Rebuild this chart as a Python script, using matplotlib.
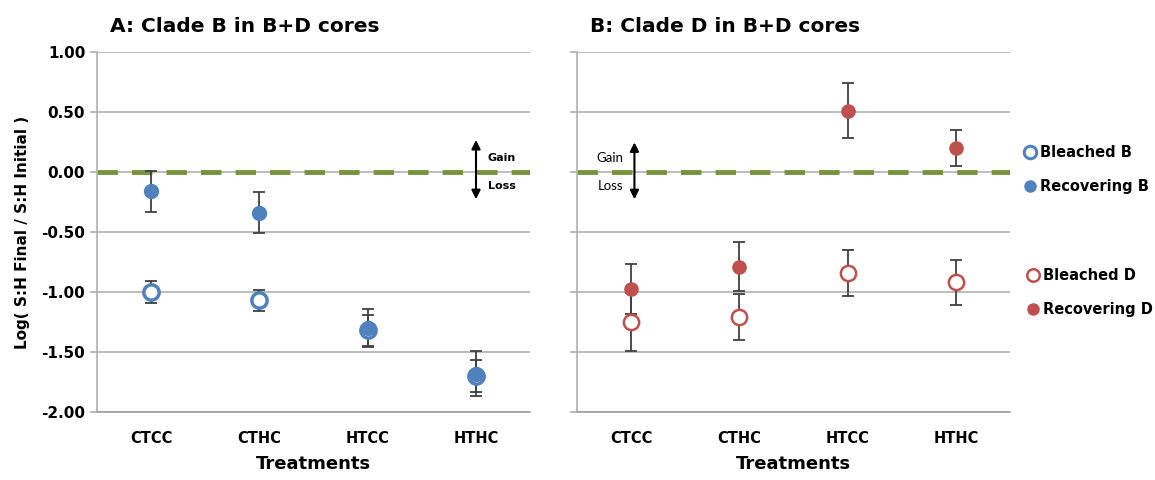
import matplotlib.pyplot as plt
from matplotlib.lines import Line2D

treatments = ["CTCC", "CTHC", "HTCC", "HTHC"]

# panel A: clade B
bleached_b = [-1.00, -1.07, -1.32, -1.70]
bleached_b_err = [0.09, 0.09, 0.13, 0.13]
recovering_b = [-0.16, -0.34, -1.30, -1.68]
recovering_b_err = [0.17, 0.17, 0.16, 0.19]

# panel B: clade D
bleached_d = [-1.25, -1.21, -0.84, -0.92]
bleached_d_err = [0.24, 0.19, 0.19, 0.19]
recovering_d = [-0.975, -0.79, 0.51, 0.20]
recovering_d_err = [0.21, 0.205, 0.23, 0.15]

yticks = [1.0, 0.5, 0.0, -0.5, -1.0, -1.5, -2.0]

blue = "#4F81BD"
red = "#C0504D"
green = "#77933C"
ecol = "#404040"

fig = plt.figure(figsize=(11.55, 4.8), dpi=100)
ax1 = fig.add_axes([0.084, 0.1417, 0.375, 0.75])
ax2 = fig.add_axes([0.4996, 0.1417, 0.375, 0.75])

x = list(range(len(treatments)))

def style(ax, show_labels):
    ax.set_xlim(-0.5, 3.5)
    ax.set_ylim(-2.0, 1.0)
    ax.set_yticks(yticks)
    ax.yaxis.grid(True, color="#B0B0B0", lw=1.2)
    ax.set_axisbelow(True)
    for s in ["top", "right"]:
        ax.spines[s].set_visible(False)
    ax.spines["left"].set_color("#B0B0B0")
    ax.spines["bottom"].set_color("#A0A0A0")
    ax.spines["left"].set_linewidth(1.2)
    ax.spines["bottom"].set_linewidth(1.2)
    ax.tick_params(axis="y", color="#B0B0B0", length=5, width=1.2)
    ax.tick_params(axis="x", length=0, pad=14)
    ax.set_xticks(x)
    ax.set_xticklabels(treatments, fontsize=10.5, fontweight="bold")
    if show_labels:
        ax.set_yticklabels(["%.2f" % t for t in yticks], fontsize=11, fontweight="bold")
    else:
        ax.set_yticklabels([])
    ax.set_xlabel("Treatments", fontsize=13, fontweight="bold", labelpad=6)
    ax.axhline(0, color=green, lw=3.5, dashes=(4.2, 2.9), zorder=2)

style(ax1, True)
style(ax2, False)
ax1.set_ylabel("Log( S:H Final / S:H Initial )", fontsize=11, fontweight="bold", labelpad=8)

ekw = dict(fmt="none", ecolor=ecol, elinewidth=1.3, capsize=4.5, capthick=1.3, zorder=3)

ax1.errorbar(x, bleached_b, yerr=bleached_b_err, **ekw)
ax1.errorbar(x, recovering_b, yerr=recovering_b_err, **ekw)
ax1.plot(x, bleached_b, "o", ms=11, mfc="white", mec=blue, mew=2.5, ls="none", zorder=4)
ax1.plot(x, recovering_b, "o", ms=10, color=blue, ls="none", zorder=5)

ax2.errorbar(x, bleached_d, yerr=bleached_d_err, **ekw)
ax2.errorbar(x, recovering_d, yerr=recovering_d_err, **ekw)
ax2.plot(x, bleached_d, "o", ms=11, mfc="white", mec=red, mew=1.8, ls="none", zorder=4)
ax2.plot(x, recovering_d, "o", ms=9.5, color=red, ls="none", zorder=5)

# gain / loss arrows
ax1.annotate("", xy=(3, 0.29), xytext=(3, -0.25),
             arrowprops=dict(arrowstyle="<|-|>", color="black", lw=1.5, mutation_scale=13))
ax1.text(3.11, 0.12, "Gain", fontsize=8, fontweight="bold", va="center", ha="left")
ax1.text(3.11, -0.12, "Loss", fontsize=8, fontweight="bold", va="center", ha="left")

ax2.annotate("", xy=(0.03, 0.27), xytext=(0.03, -0.25),
             arrowprops=dict(arrowstyle="<|-|>", color="black", lw=1.5, mutation_scale=13))
ax2.text(-0.07, 0.12, "Gain", fontsize=9.5, family="Lato", va="center", ha="right")
ax2.text(-0.07, -0.12, "Loss", fontsize=9.5, family="Lato", va="center", ha="right")

fig.text(0.095, 0.945, "A: Clade B in B+D cores", fontsize=14.5,
         fontweight="bold", va="center")
fig.text(0.511, 0.945, "B: Clade D in B+D cores", fontsize=14.5,
         fontweight="bold", va="center")

h_b = [Line2D([], [], marker="o", ls="none", ms=9, mfc="white", mec=blue, mew=2.2),
       Line2D([], [], marker="o", ls="none", ms=8, color=blue)]
h_d = [Line2D([], [], marker="o", ls="none", ms=9, mfc="white", mec=red, mew=1.8),
       Line2D([], [], marker="o", ls="none", ms=8, color=red)]
lprop = dict(size=10.5, weight="bold")
leg1 = fig.legend(h_b, ["Bleached B", "Recovering B"], loc="upper left",
                  bbox_to_anchor=(0.875, 0.725), frameon=False, handlelength=0.8,
                  handletextpad=0.3, labelspacing=1.3, prop=lprop)
leg2 = fig.legend(h_d, ["Bleached D", "Recovering D"], loc="upper left",
                  bbox_to_anchor=(0.878, 0.468), frameon=False, handlelength=0.8,
                  handletextpad=0.3, labelspacing=1.3, prop=lprop)

fig.savefig("out.png", dpi=100)
